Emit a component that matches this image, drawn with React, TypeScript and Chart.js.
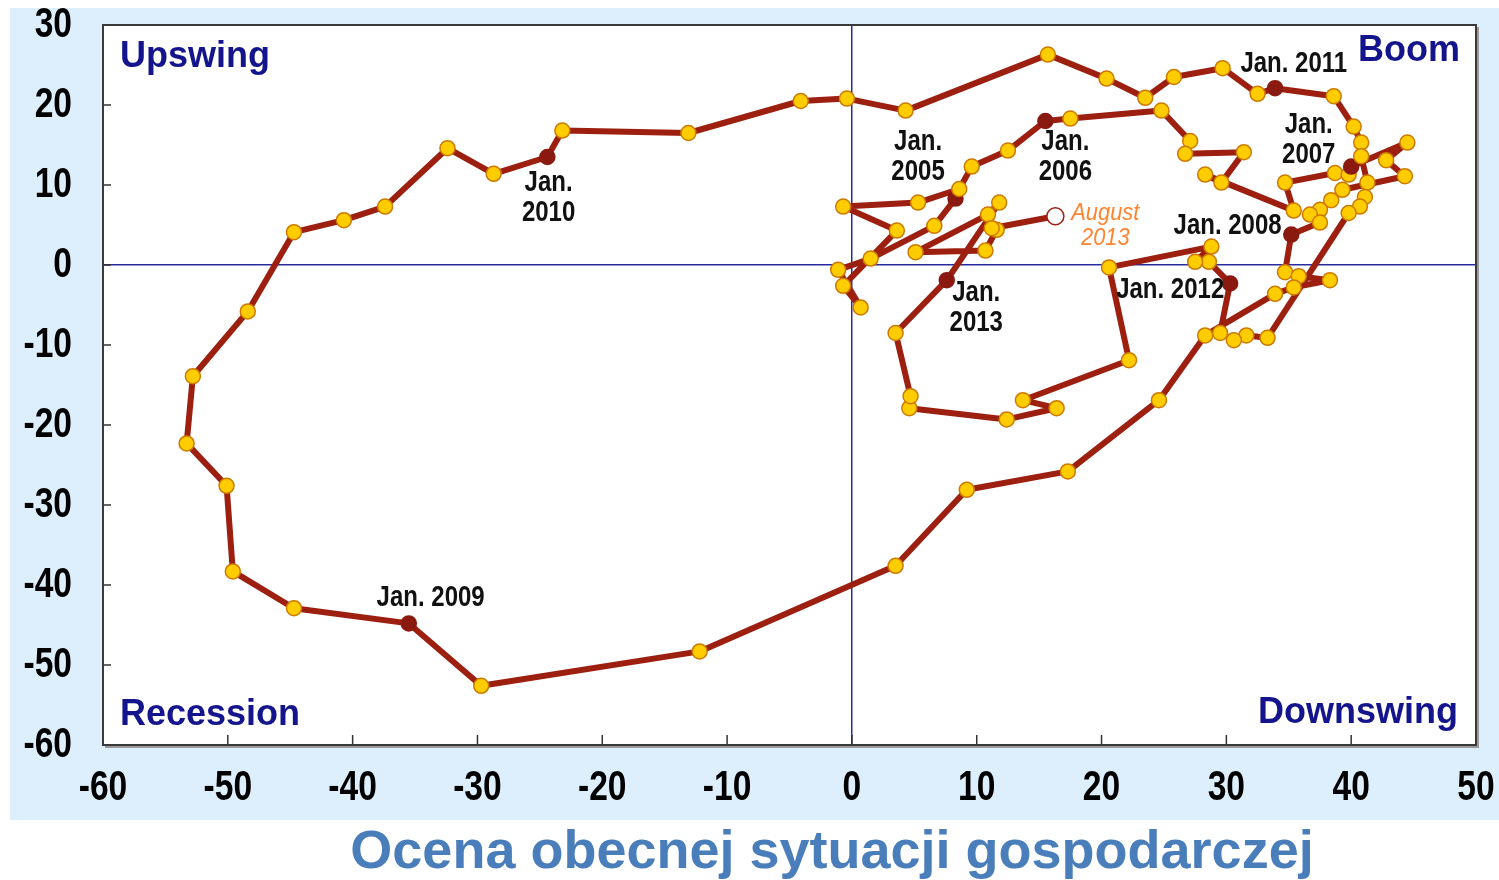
import React, { useEffect, useRef } from 'react';
import { Chart, registerables } from 'chart.js';

Chart.register(...registerables);

// Assessment of current business situation (x) and business expectations (y), monthly
const situation: number[] = [
  8.3, 6.6, 1.5, -1.1, 0.7, -0.7, 3.6, -0.7, 5.3, 8.6, 9.6, 12.5,
  15.5, 17.5, 24.8, 27.1, 26.7, 31.4, 29.6, 28.3, 35.4, 34.7, 38.7, 39.8,
  40.0, 44.5, 42.8, 44.3, 39.3, 38.4, 37.5, 36.7, 37.5,
  35.2, 34.7, 35.8, 38.3, 35.4, 33.9, 28.3, 24.6, 17.3, 9.2, 3.5, -12.2, -29.7,
  -35.5, -44.7, -49.6, -50.1, -53.3, -52.8, -48.4, -44.7, -40.7, -37.4, -32.4, -28.7,
  -24.4, -23.2, -13.1, -4.1, -0.4, 4.3, 15.7, 20.4, 23.5, 25.8, 29.7, 32.5,
  33.9, 38.6, 40.2, 40.8, 40.8, 41.3, 41.1, 40.7, 39.8, 33.3, 31.6, 30.6, 29.5,
  30.3, 28.6, 27.5, 28.8, 20.6, 22.2, 13.7, 16.4, 12.4, 4.6, 4.7, 3.5,
  7.6, 11.8, 10.9, 5.1, 10.7, 11.6, 11.2, 16.3,
];
const expectations: number[] = [
  8.3, 4.9, 0.8, -0.6, -5.3, -2.6, 4.3, 7.3, 7.8, 9.5, 12.3, 14.3,
  18.0, 18.3, 19.3, 15.5, 13.9, 14.1, 10.3, 11.3, 6.8, 10.3, 11.5, 11.3,
  12.3, 15.3, 13.1, 11.1, 9.4, 8.1, 6.9, 6.3, 5.3,
  3.8, -0.9, -1.4, -1.9, -2.8, -3.6, -8.8, -16.9, -25.8, -28.1, -37.6, -48.3, -52.6,
  -44.8, -42.9, -38.3, -27.6, -22.3, -13.9, -5.8, 4.1, 5.6, 7.3, 14.6, 11.4,
  13.5, 16.8, 16.5, 20.5, 20.8, 19.3, 26.3, 23.3, 20.9, 23.5, 24.6, 21.4,
  22.1, 21.1, 17.3, 15.3, 13.6, 10.3, 8.5, 7.3, 6.5, -9.1, -8.8, -9.4, -8.5,
  -2.3, 0.4, 0.4, 2.3, -0.3, -11.9, -16.9, -17.9, -19.3, -17.9, -16.4, -8.5,
  -1.9, 7.8, 6.3, 1.6, 1.8, 4.4, 4.6, 6.1,
];
// indices of the January observations (dark markers)
const januaryIdx: number[] = [0, 12, 24, 33, 46, 58, 70, 83, 95];

// annotations: text lines and the data position of their centre
const janLabels: { lines: string[]; x: number; y: number }[] = [
  { lines: ['Jan.', '2005'], x: 5.3, y: 13.5 },
  { lines: ['Jan.', '2006'], x: 17.1, y: 13.5 },
  { lines: ['Jan.', '2007'], x: 36.6, y: 15.6 },
  { lines: ['Jan. 2011'], x: 35.4, y: 25.1 },
  { lines: ['Jan. 2008'], x: 30.1, y: 4.9 },
  { lines: ['Jan. 2012'], x: 25.5, y: -3.1 },
  { lines: ['Jan.', '2013'], x: 9.96, y: -5.4 },
  { lines: ['Jan.', '2010'], x: -24.3, y: 8.4 },
  { lines: ['Jan. 2009'], x: -33.75, y: -41.6 },
];
const lastLabel = { lines: ['August', '2013'], x: 20.3, y: 4.8 };
const quadrants = { upswing: 'Upswing', boom: 'Boom', recession: 'Recession', downswing: 'Downswing' };
const titleText = 'Ocena obecnej sytuacji gospodarczej';
const xTicks = [-60, -50, -40, -30, -20, -10, 0, 10, 20, 30, 40, 50];
const yTicks = [-60, -50, -40, -30, -20, -10, 0, 10, 20, 30];

const LINE = '#9c1f10';
const DARK = '#8a1a10';
const YELLOW = '#ffcc00';
const NAVY = '#14148c';
const SANS = "'Liberation Sans', Arial, sans-serif";
const CONDENSE = 0.8;

export default function App() {
  const ref = useRef<HTMLCanvasElement>(null);

  useEffect(() => {
    document.body.style.margin = '0';
    const canvas = ref.current!;
    const ctx = canvas.getContext('2d')!;
    const pts = situation.map((x, i) => ({ x, y: expectations[i] }));
    const last = pts.length - 1;

    const narrowText = (c: CanvasRenderingContext2D, t: string, x: number, y: number, align: CanvasTextAlign, k: number) => {
      c.save();
      c.translate(x, y);
      c.scale(k, 1);
      c.textAlign = align;
      c.fillText(t, 0, 0);
      c.restore();
    };

    const deco = {
      id: 'deco',
      beforeDraw(chart: any) {
        const c = chart.ctx;
        const a = chart.chartArea;
        c.save();
        c.fillStyle = '#ffffff';
        c.fillRect(0, 0, chart.width, chart.height);
        c.fillStyle = '#ddeefc';
        c.fillRect(10, 8, chart.width - 10, 812);
        c.fillStyle = '#ffffff';
        c.fillRect(a.left, a.top, a.right - a.left, a.bottom - a.top);
        c.restore();
      },
      afterDraw(chart: any) {
        const c = chart.ctx;
        const a = chart.chartArea;
        const xs = chart.scales.x;
        const ys = chart.scales.y;
        c.save();
        // tick marks inside the plot
        c.strokeStyle = '#333333';
        c.lineWidth = 1.5;
        xTicks.forEach((v) => {
          const px = xs.getPixelForValue(v);
          c.beginPath();
          c.moveTo(px, a.bottom);
          c.lineTo(px, a.bottom - 10);
          c.stroke();
        });
        yTicks.forEach((v) => {
          const py = ys.getPixelForValue(v);
          c.beginPath();
          c.moveTo(a.left, py);
          c.lineTo(a.left + 8, py);
          c.stroke();
        });
        // frame with a soft shadow
        c.strokeStyle = '#9a9a9a';
        c.lineWidth = 2;
        c.beginPath();
        c.moveTo(a.right + 2, a.top + 2);
        c.lineTo(a.right + 2, a.bottom + 2);
        c.lineTo(a.left + 2, a.bottom + 2);
        c.stroke();
        c.strokeStyle = '#3a3a3a';
        c.lineWidth = 2;
        c.strokeRect(a.left, a.top, a.right - a.left, a.bottom - a.top);

        // tick labels (condensed bold)
        c.font = `bold 42px ${SANS}`;
        c.fillStyle = '#000000';
        c.textBaseline = 'middle';
        xTicks.forEach((v) => narrowText(c, String(v), xs.getPixelForValue(v), a.bottom + 43, 'center', CONDENSE));
        yTicks.forEach((v) => narrowText(c, String(v), a.left - 31, ys.getPixelForValue(v), 'right', CONDENSE));

        // month labels
        const drawLines = (lab: { lines: string[]; x: number; y: number }, font: string, color: string, lh: number, k: number) => {
          c.font = font;
          c.fillStyle = color;
          c.textBaseline = 'middle';
          const cx = xs.getPixelForValue(lab.x);
          const cy = ys.getPixelForValue(lab.y);
          const n = lab.lines.length;
          lab.lines.forEach((t, i) => {
            const yy = cy + (i - (n - 1) / 2) * lh;
            narrowText(c, t, cx, yy, 'center', k);
          });
        };
        janLabels.forEach((l) => drawLines(l, `bold 30px ${SANS}`, '#111111', 30, CONDENSE));
        drawLines(lastLabel, `italic 23px ${SANS}`, '#ff8430', 25, 0.95);

        // quadrant names
        c.font = `bold 36px ${SANS}`;
        c.fillStyle = NAVY;
        c.textBaseline = 'middle';
        c.textAlign = 'left';
        c.fillText(quadrants.upswing, a.left + 17, a.top + 32);
        c.fillText(quadrants.recession, a.left + 17, a.bottom - 30);
        c.textAlign = 'right';
        c.fillText(quadrants.boom, a.right - 16, a.top + 26);
        c.fillText(quadrants.downswing, a.right - 18, a.bottom - 32);

        // bottom title
        c.font = `bold 54px ${SANS}`;
        c.fillStyle = '#4a7ebb';
        c.textAlign = 'center';
        c.fillText(titleText, 832, 853);
        c.restore();
      },
    };

    const zeroGrid = (c: any) => (c.tick && c.tick.value === 0 ? '#2a2aa0' : 'rgba(0,0,0,0)');

    const chart = new Chart(ctx, {
      type: 'scatter',
      data: {
        datasets: [
          {
            data: pts,
            showLine: true,
            borderColor: LINE,
            borderWidth: 6,
            borderJoinStyle: 'round',
            borderCapStyle: 'round',
            tension: 0,
            pointRadius: pts.map((_, i) => (i === last ? 8.5 : 7.5)),
            pointBackgroundColor: pts.map((_, i) => (i === last ? '#ffffff' : januaryIdx.includes(i) ? DARK : YELLOW)),
            pointBorderColor: pts.map((_, i) => (i === last ? LINE : januaryIdx.includes(i) ? DARK : '#cc7a00')),
            pointBorderWidth: 1.5,
          },
        ],
      },
      options: {
        responsive: false,
        animation: false,
        layout: { padding: { top: 25, right: 23, left: 0, bottom: 0 } },
        plugins: { legend: { display: false }, tooltip: { enabled: false }, title: { display: false } },
        scales: {
          x: {
            type: 'linear',
            min: -60,
            max: 50,
            afterBuildTicks: (s: any) => {
              s.ticks = xTicks.map((v) => ({ value: v }));
            },
            ticks: { display: false },
            grid: { color: zeroGrid, lineWidth: 1.5, drawTicks: false },
            border: { display: false },
            afterFit: (s: any) => {
              s.height = 135;
            },
          },
          y: {
            type: 'linear',
            min: -60,
            max: 30,
            afterBuildTicks: (s: any) => {
              s.ticks = yTicks.map((v) => ({ value: v }));
            },
            ticks: { display: false },
            grid: { color: zeroGrid, lineWidth: 1.5, drawTicks: false },
            border: { display: false },
            afterFit: (s: any) => {
              s.width = 103;
            },
          },
        },
      } as any,
      plugins: [deco],
    });

    return () => chart.destroy();
  }, []);

  return <canvas ref={ref} width={1499} height={880} style={{ display: 'block' }} />;
}
